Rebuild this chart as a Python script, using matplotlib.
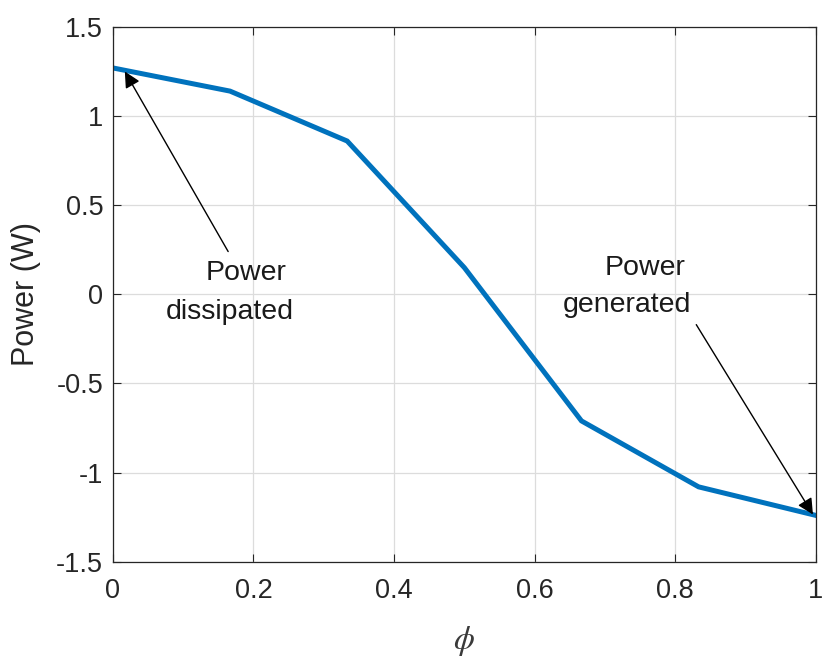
import matplotlib.pyplot as plt
import numpy as np

plt.rcParams["font.family"] = ["Liberation Sans", "DejaVu Sans"]
plt.rcParams["mathtext.fontset"] = "stix"

# phi samples and measured power
phi = [0, 1 / 6, 2 / 6, 3 / 6, 4 / 6, 5 / 6, 1]
power = [1.27, 1.14, 0.86, 0.15, -0.71, -1.08, -1.24]

xticks = [0, 0.2, 0.4, 0.6, 0.8, 1]
yticks = [-1.5, -1, -0.5, 0, 0.5, 1, 1.5]
dark = "#262626"

fig = plt.figure(figsize=(8.24, 6.57), dpi=100)
ax = fig.add_axes([0.137, 0.145, 0.853, 0.814])

ax.plot(phi, power, color="#0072BD", linewidth=3.6, solid_joinstyle="miter")

ax.set_xlim(0, 1)
ax.set_ylim(-1.5, 1.5)
ax.set_xticks(xticks)
ax.set_xticklabels(["0", "0.2", "0.4", "0.6", "0.8", "1"])
ax.set_yticks(yticks)
ax.set_yticklabels(["-1.5", "-1", "-0.5", "0", "0.5", "1", "1.5"])
ax.tick_params(direction="in", length=6, width=0.8, colors=dark,
               labelsize=19.5, top=True, right=True)
ax.tick_params(axis="x", pad=12)
ax.tick_params(axis="y", pad=7)
for s in ax.spines.values():
    s.set_color(dark)
    s.set_linewidth(0.9)
ax.grid(True, color="#dcdcdc", linewidth=0.9)
ax.set_axisbelow(True)

ax.set_xlabel(r"$\phi$", fontsize=24, color="#3a3a3a", labelpad=14)
ax.set_ylabel("Power (W)", fontsize=22, color=dark, labelpad=11)

arrow = dict(arrowstyle="-|>", color="black", lw=1.0,
             mutation_scale=24, shrinkA=0, shrinkB=0)
ax.annotate("", xy=(0.017, 1.25), xytext=(0.164, 0.24), arrowprops=arrow)
ax.text(0.19, 0.12, "Power", ha="center", va="center",
        fontsize=20.5, color="#1a1a1a")
ax.text(0.166, -0.098, "dissipated", ha="center", va="center",
        fontsize=20.5, color="#1a1a1a")
ax.annotate("", xy=(0.996, -1.235), xytext=(0.83, -0.17), arrowprops=arrow)
ax.text(0.757, 0.149, "Power", ha="center", va="center",
        fontsize=20.5, color="#1a1a1a")
ax.text(0.731, -0.059, "generated", ha="center", va="center",
        fontsize=20.5, color="#1a1a1a")

fig.savefig("out.png", dpi=100)
